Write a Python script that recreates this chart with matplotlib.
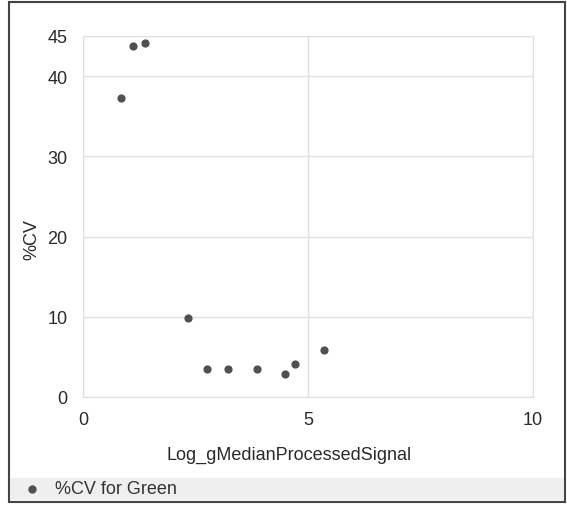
import matplotlib.pyplot as plt
from matplotlib.patches import Rectangle
from matplotlib.lines import Line2D

plt.rcParams['font.family'] = ['Liberation Sans', 'DejaVu Sans']

# data
log_signal = [0.84, 1.10, 1.37, 2.34, 2.76, 3.22, 3.86, 4.48, 4.70, 5.36]
cv_green = [37.3, 43.7, 44.1, 9.9, 3.5, 3.5, 3.5, 2.9, 4.1, 5.8]
x_ticks = [0, 5, 10]
y_ticks = [0, 10, 20, 30, 40, 45]
series_name = '%CV for Green'

W, H = 567, 506
fig = plt.figure(figsize=(W / 100, H / 100), dpi=100)

def fx(px):
    return px / W

def fy(py):
    return 1 - py / H

# outer frame and legend band
fig.patches.append(Rectangle((fx(9), fy(503)), fx(565) - fx(9), fy(3) - fy(503),
                             transform=fig.transFigure, fill=False,
                             edgecolor='#444444', linewidth=1.5))
fig.patches.append(Rectangle((fx(10), fy(501)), fx(564) - fx(10), fy(479) - fy(501),
                             transform=fig.transFigure, facecolor='#efefef',
                             edgecolor='none'))

ax = fig.add_axes([fx(83), fy(398), fx(533) - fx(83), fy(37) - fy(398)])
ax.scatter(log_signal, cv_green, marker='o', s=24, color='#505050', zorder=3)

ax.set_xlim(0, 10)
ax.set_ylim(0, 45)
ax.set_xticks(x_ticks)
ax.set_yticks(y_ticks)
ax.grid(True, color='#e0e0e0', linewidth=1)
ax.set_axisbelow(True)
for s in ax.spines.values():
    s.set_color('#e0e0e0')
ax.tick_params(length=0, labelsize=13, labelcolor='#2a2a2a')
ax.tick_params(axis='x', pad=10)
ax.tick_params(axis='y', pad=11)

fig.text(fx(289), fy(455), 'Log_gMedianProcessedSignal', ha='center', va='center',
         fontsize=13, color='#2a2a2a')
fig.text(fx(32), fy(240), '%CV', ha='center', va='center', rotation=90,
         fontsize=13, color='#2a2a2a')

fig.lines.append(Line2D([fx(32)], [fy(490)], transform=fig.transFigure,
                        marker='o', markersize=5, color='#505050', linestyle='none'))
fig.text(fx(55), fy(490), series_name, ha='left', va='center',
         fontsize=13, color='#333333')

fig.savefig('out.png', dpi=100)
